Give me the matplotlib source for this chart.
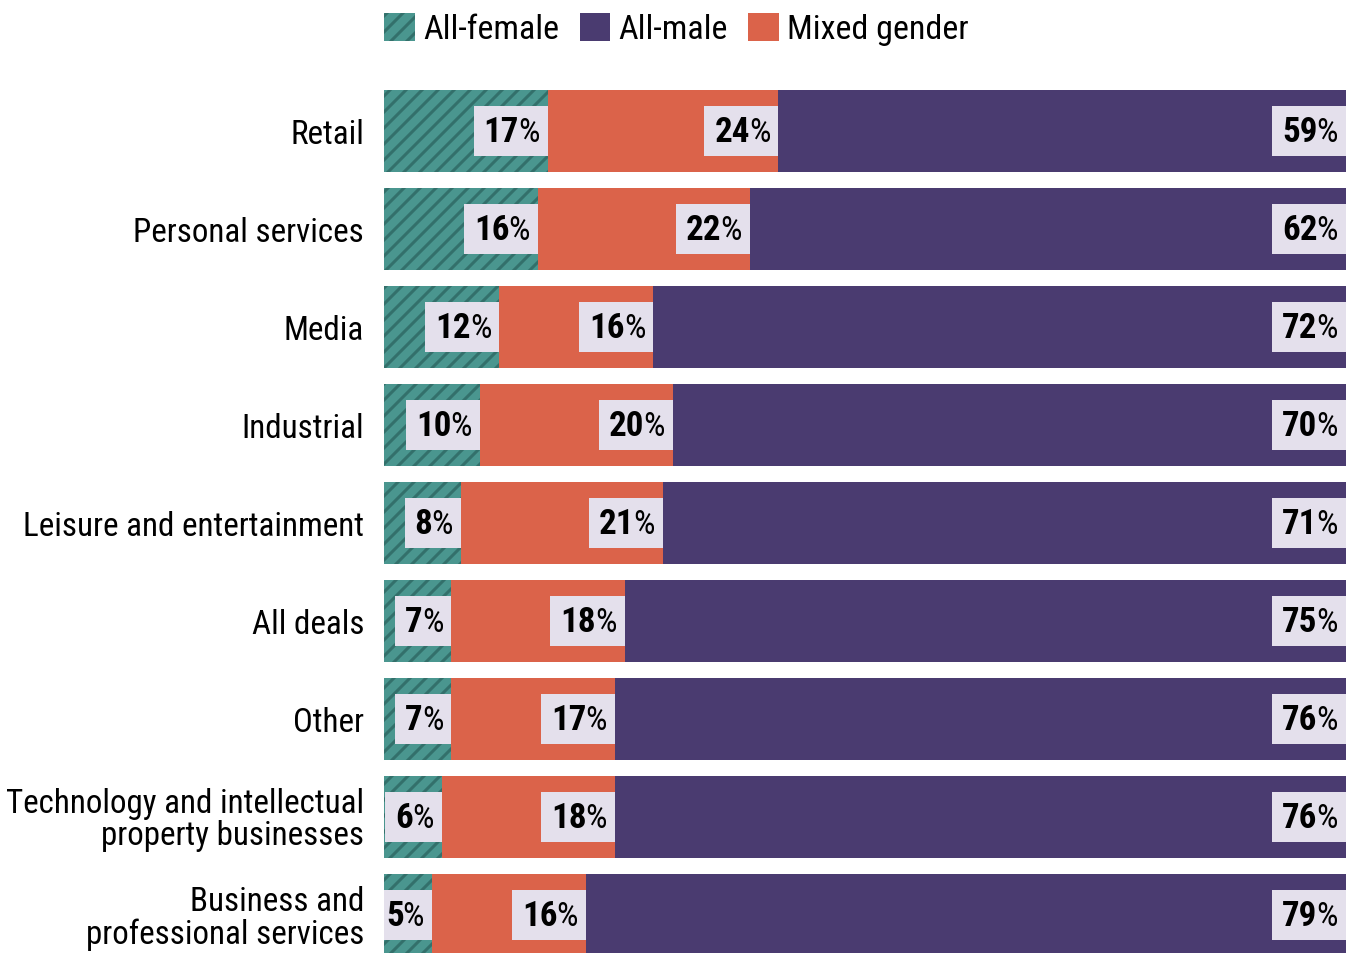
import matplotlib
matplotlib.use('Agg')
import matplotlib.pyplot as plt
from matplotlib.patches import Rectangle, Patch
import numpy as np

plt.rcParams['font.family'] = ['Roboto Condensed', 'Archivo Narrow', 'PT Sans Narrow',
                               'Fira Sans Condensed', 'Liberation Sans', 'DejaVu Sans']
plt.rcParams['hatch.linewidth'] = 1.5

categories = ['Retail', 'Personal services', 'Media', 'Industrial',
              'Leisure and entertainment', 'All deals', 'Other',
              'Technology and intellectual\nproperty businesses',
              'Business and\nprofessional services']
female = [17, 16, 12, 10, 8, 7, 7, 6, 5]
mixed = [24, 22, 16, 20, 21, 18, 17, 18, 16]
male = [59, 62, 72, 70, 71, 75, 76, 76, 79]

c_female = '#4A968F'
c_hatch = '#33706B'
c_mixed = '#DB634A'
c_male = '#4A3B70'
c_box = '#E4E0EC'

dpi = 144
W, H = 1346, 953
fig = plt.figure(figsize=(W / dpi, H / dpi), dpi=dpi)
top_px = 60
ax = fig.add_axes([384 / W, 0, 1 - 384 / W, (H - top_px) / H])

y = np.arange(len(categories))
bh = 0.84
ax.barh(y, female, height=bh, color=c_female, edgecolor=c_hatch, linewidth=0, hatch='///')
ax.barh(y, mixed, left=female, height=bh, color=c_mixed, linewidth=0)
ax.barh(y, male, left=np.add(female, mixed), height=bh, color=c_male, linewidth=0)

ax.set_xlim(0, 100)
ax.set_ylim((H - 131) / 98, (top_px - 131) / 98)
ax.set_yticks(y)
ax.set_yticklabels(categories, fontsize=16.5, linespacing=1.0)
ax.tick_params(axis='y', length=0, pad=10)
ax.tick_params(axis='x', length=0, labelbottom=False)
for s in ax.spines.values():
    s.set_visible(False)

fig.canvas.draw()
r = fig.canvas.get_renderer()
px_x = (ax.transData.transform((100, 0))[0] - ax.transData.transform((0, 0))[0]) / 100
px_y = abs(ax.transData.transform((0, 1))[1] - ax.transData.transform((0, 0))[1])
pad_r, pad_l = 8, 10
box_h = 50 / px_y

for i in range(len(categories)):
    ends = [female[i], female[i] + mixed[i], 100]
    vals = [female[i], mixed[i], male[i]]
    for e, v in zip(ends, vals):
        t1 = ax.annotate('%', (e, i), xytext=(-pad_r, -2), textcoords='offset pixels',
                         ha='right', va='center', fontsize=17, zorder=4)
        w1 = t1.get_window_extent(r).width
        t2 = ax.annotate(str(v), (e, i), xytext=(-pad_r - w1 + 1, -2), textcoords='offset pixels',
                         ha='right', va='center', fontsize=17.5, fontweight='bold', zorder=4)
        w2 = t2.get_window_extent(r).width
        bw = (w1 + w2 + pad_r + pad_l - 1) / px_x
        ax.add_patch(Rectangle((e - bw, i - box_h / 2), bw, box_h,
                               facecolor=c_box, linewidth=0, zorder=3))

handles = [Patch(facecolor=c_female, edgecolor=c_hatch, linewidth=0, hatch='///', label='All-female'),
           Patch(facecolor=c_male, linewidth=0, label='All-male'),
           Patch(facecolor=c_mixed, linewidth=0, label='Mixed gender')]
fig.legend(handles=handles, loc='upper left', bbox_to_anchor=(384 / W, 1 - 13 / H),
           ncol=3, frameon=False, fontsize=17, handlelength=0.9, handleheight=0.9,
           handletextpad=0.25, columnspacing=0.6, borderaxespad=0, borderpad=0)

fig.savefig('out.png', dpi=dpi)
